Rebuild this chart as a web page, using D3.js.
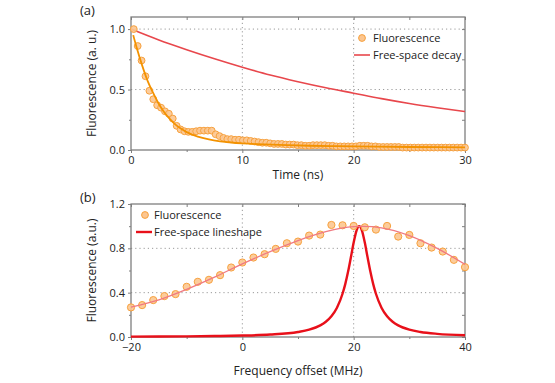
<!DOCTYPE html>
<meta charset="utf-8">
<script src="https://d3js.org/d3.v7.min.js"></script>
<style>
  body { margin: 0; background: #fff; }
  svg text { font-family: "Open Sans", "Liberation Sans", sans-serif; fill: #222; }
</style>
<div id="chart"></div>
<script>

// ---- panel (a): time-resolved fluorescence ----
var timeA = [0.25,0.60,0.95,1.30,1.65,2.00,2.35,2.70,3.05,3.40,3.75,4.10,4.45,4.80,5.15,5.50,5.85,6.20,6.55,6.90,
  7.25,7.60,7.95,8.30,8.65,9.00,9.35,9.70,10.05,10.40,10.75,11.10,11.45,11.80,12.15,12.50,12.85,13.20,13.55,13.90,
  14.25,14.60,14.95,15.30,15.65,16.00,16.35,16.70,17.05,17.40,17.75,18.10,18.45,18.80,19.15,19.50,19.85,20.20,20.55,20.90,
  21.25,21.60,21.95,22.30,22.65,23.00,23.35,23.70,24.05,24.40,24.75,25.10,25.45,25.80,26.15,26.50,26.85,27.20,27.55,27.90,
  28.25,28.60,28.95,29.30,29.65,30.00];
var fluorA = [1.00,0.86,0.74,0.61,0.49,0.42,0.37,0.35,0.32,0.30,0.26,0.20,0.17,0.155,0.15,0.15,0.155,0.16,0.16,0.16,
  0.16,0.13,0.115,0.10,0.09,0.09,0.085,0.085,0.08,0.08,0.075,0.07,0.065,0.06,0.06,0.055,0.05,0.05,0.05,0.045,
  0.045,0.045,0.04,0.04,0.035,0.035,0.04,0.04,0.04,0.04,0.035,0.035,0.03,0.03,0.03,0.03,0.03,0.03,0.035,0.035,
  0.035,0.03,0.03,0.025,0.025,0.025,0.025,0.025,0.025,0.02,0.02,0.02,0.02,0.02,0.02,0.02,0.02,0.02,0.02,0.02,
  0.02,0.02,0.02,0.02,0.02,0.02];

var fitTime  = [0.2,0.5,1.0,1.5,2.0,2.5,3.0,3.5,4.0,4.5,5.0,6.0,7.0,8.0,9.0,10,12,14,16,18,20,25,30];
var fitFluor = [0.95,0.85,0.70,0.57,0.47,0.38,0.31,0.255,0.21,0.175,0.148,0.11,0.087,0.072,0.062,0.055,0.046,0.04,0.035,0.032,0.03,0.025,0.022];

var decayTime  = [0,2.5,5,7.5,10,12.5,15,17.5,20,22.5,25,27.5,30];
var decayValue = [1.0,0.91,0.83,0.755,0.685,0.62,0.565,0.515,0.47,0.425,0.385,0.35,0.318];

// ---- panel (b): excitation spectrum ----
var freqB  = [-20,-18,-16,-14,-12,-10,-8,-6,-4,-2,0,2,4,6,8,10,12,14,16,18,20,22,24,26,28,30,32,34,36,38,40];
var fluorB = [0.267,0.288,0.333,0.369,0.387,0.453,0.498,0.516,0.558,0.627,0.672,0.717,0.747,0.795,0.846,0.861,
  0.915,0.924,1.011,1.008,1.002,0.99,0.969,1.002,0.906,0.921,0.846,0.807,0.771,0.696,0.63];

var fitFreq  = [-20,-15,-10,-5,0,5,10,15,20,25,30,35,40];
var fitSpec  = [0.27,0.335,0.43,0.54,0.66,0.77,0.87,0.95,0.995,0.985,0.915,0.80,0.655];

var lineFreq  = [-20,-15,-10,-5,0,5,10,12,14,15,16,17,18,18.5,19,19.5,20,20.5,21,21.5,22,22.5,23,23.5,24,25,26,27,28,30,32,35,40];
var lineShape = [0.0034,0.0044,0.006,0.0085,0.0129,0.022,0.0454,0.0664,0.1052,0.1379,0.1873,0.2647,0.3902,0.4796,0.5902,0.7191,0.8521,0.9584,1.0,
  0.9584,0.8521,0.7191,0.5902,0.4796,0.3902,0.2647,0.1873,0.1379,0.1052,0.0664,0.0454,0.0285,0.0157];

var ticksA_x = [0,10,20,30], ticksA_y = [0,0.5,1.0];
var ticksB_x = [-20,0,20,40], ticksB_y = [0,0.4,0.8,1.2];

var W = 555, H = 383;
var svg = d3.select("#chart").append("svg").attr("width", W).attr("height", H);

var frameColor = "#7f7f7f";
var gridColor = "#9a9a9a";

function panel(opt) {
  var g = svg.append("g");
  var x = opt.x, y = opt.y;
  var x0 = x.range()[0], x1 = x.range()[1], y0 = y.range()[0], y1 = y.range()[1];

  // grid lines
  opt.gridX.forEach(function(v) {
    g.append("line").attr("x1", x(v)).attr("x2", x(v)).attr("y1", y0).attr("y2", y1)
      .attr("stroke", gridColor).attr("stroke-width", 1).attr("stroke-dasharray", "1.2,3");
  });
  opt.gridY.forEach(function(v) {
    g.append("line").attr("x1", x0).attr("x2", x1).attr("y1", y(v)).attr("y2", y(v))
      .attr("stroke", gridColor).attr("stroke-width", 1).attr("stroke-dasharray", "1.2,3");
  });

  // bottom axis
  var bx = g.append("g").attr("transform", "translate(0," + y0 + ")")
    .call(d3.axisBottom(x).tickValues(opt.ticksX).tickSize(3).tickSizeOuter(0).tickPadding(3).tickFormat(opt.fmtX));
  bx.append("g").call(d3.axisBottom(x).tickValues(opt.minorX).tickSize(2).tickSizeOuter(0).tickFormat(""));
  // left axis
  var ly = g.append("g").attr("transform", "translate(" + x0 + ",0)")
    .call(d3.axisLeft(y).tickValues(opt.ticksY).tickSize(3).tickSizeOuter(0).tickPadding(3).tickFormat(d3.format(".1f")));
  ly.append("g").call(d3.axisLeft(y).tickValues(opt.minorY).tickSize(2).tickSizeOuter(0).tickFormat(""));
  // top / right inward ticks
  g.append("g").attr("transform", "translate(0," + y1 + ")")
    .call(d3.axisBottom(x).tickValues(opt.ticksX.concat(opt.minorX)).tickSize(3).tickSizeOuter(0).tickFormat(""));
  g.append("g").attr("transform", "translate(" + x1 + ",0)")
    .call(d3.axisLeft(y).tickValues(opt.ticksY.concat(opt.minorY)).tickSize(3).tickSizeOuter(0).tickFormat(""));

  g.selectAll(".domain").remove();
  g.selectAll(".tick line").attr("stroke", frameColor);
  g.selectAll(".tick text").style("font-size", "11px").attr("fill", "#222");

  g.append("rect").attr("x", x0).attr("y", y1).attr("width", x1 - x0).attr("height", y0 - y1)
    .attr("fill", "none").attr("stroke", frameColor).attr("stroke-width", 1.3);

  // axis titles
  g.append("text").attr("x", (x0 + x1) / 2).attr("y", opt.xTitleY).attr("text-anchor", "middle")
    .style("font-size", "12px").text(opt.xTitle);
  g.append("text").attr("transform", "translate(" + 96 + "," + ((y0 + y1) / 2) + ") rotate(-90)")
    .attr("text-anchor", "middle").style("font-size", "12px").text(opt.yTitle);
  g.append("text").attr("x", 80).attr("y", y1 - 2).style("font-size", "13px").text(opt.label);
  return g;
}

// ---------- (a) ----------
var xa = d3.scaleLinear().domain([0, 30]).range([131, 465]);
var ya = d3.scaleLinear().domain([0, 1.1]).range([150, 17]);
var ga = panel({x: xa, y: ya, ticksX: ticksA_x, minorX: [5,15,25], ticksY: ticksA_y, minorY: [0.25,0.75],
  gridX: [10,20], gridY: [0.5,1.0], fmtX: d3.format("d"),
  xTitle: "Time (ns)", xTitleY: 179, yTitle: "Fluorescence (a. u.)", label: "(a)"});

var lineA = d3.line().x(function(d) { return xa(d[0]); }).y(function(d) { return ya(d[1]); }).curve(d3.curveMonotoneX);

ga.append("path").datum(d3.zip(decayTime, decayValue)).attr("d", lineA)
  .attr("fill", "none").attr("stroke", "#e8474c").attr("stroke-width", 1.6);

ga.selectAll(".ptA").data(d3.zip(timeA, fluorA)).enter().append("circle")
  .attr("cx", function(d) { return xa(d[0]); }).attr("cy", function(d) { return ya(d[1]); }).attr("r", 3.4)
  .attr("fill", "#fcc690").attr("fill-opacity", 0.9).attr("stroke", "#f7a13e").attr("stroke-width", 1);

ga.append("path").datum(d3.zip(fitTime, fitFluor)).attr("d", lineA)
  .attr("fill", "none").attr("stroke", "#f39200").attr("stroke-width", 1.8);

// legend (a)
ga.append("circle").attr("cx", 362).attr("cy", 38).attr("r", 3.4)
  .attr("fill", "#fcc690").attr("stroke", "#f7a13e");
ga.append("text").attr("x", 373).attr("y", 42).style("font-size", "11px").text("Fluorescence");
ga.append("line").attr("x1", 354).attr("x2", 370).attr("y1", 55).attr("y2", 55)
  .attr("stroke", "#e8474c").attr("stroke-width", 1.6);
ga.append("text").attr("x", 373).attr("y", 59).style("font-size", "11px").text("Free-space decay");

// ---------- (b) ----------
var xb = d3.scaleLinear().domain([-20, 40]).range([131, 465]);
var yb = d3.scaleLinear().domain([0, 1.2]).range([337, 204]);
var gb = panel({x: xb, y: yb, ticksX: ticksB_x, minorX: [-10,10,30], ticksY: ticksB_y, minorY: [0.2,0.6,1.0],
  gridX: [0,20], gridY: [0.4,0.8], fmtX: function(d) { return d < 0 ? "\u2212" + Math.abs(d) : d; },
  xTitle: "Frequency offset (MHz)", xTitleY: 375, yTitle: "Fluorescence (a.u.)", label: "(b)"});

var lineB = d3.line().x(function(d) { return xb(d[0]); }).y(function(d) { return yb(d[1]); }).curve(d3.curveMonotoneX);

gb.append("path").datum(d3.zip(lineFreq, lineShape)).attr("d", lineB)
  .attr("fill", "none").attr("stroke", "#e8101a").attr("stroke-width", 2.4);

gb.selectAll(".ptB").data(d3.zip(freqB, fluorB)).enter().append("circle")
  .attr("cx", function(d) { return xb(d[0]); }).attr("cy", function(d) { return yb(d[1]); }).attr("r", 3.6)
  .attr("fill", "#fcc690").attr("fill-opacity", 0.9).attr("stroke", "#f7a13e").attr("stroke-width", 1);

gb.append("path").datum(d3.zip(fitFreq, fitSpec)).attr("d", lineB.curve(d3.curveCatmullRom))
  .attr("fill", "none").attr("stroke", "#f07a82").attr("stroke-width", 1.3);

// legend (b)
gb.append("circle").attr("cx", 145).attr("cy", 215).attr("r", 3.4)
  .attr("fill", "#fcc690").attr("stroke", "#f7a13e");
gb.append("text").attr("x", 154).attr("y", 219).style("font-size", "11px").text("Fluorescence");
gb.append("line").attr("x1", 136).attr("x2", 152).attr("y1", 232).attr("y2", 232)
  .attr("stroke", "#e8101a").attr("stroke-width", 2.4);
gb.append("text").attr("x", 154).attr("y", 236).style("font-size", "11px").text("Free-space lineshape");

</script>
